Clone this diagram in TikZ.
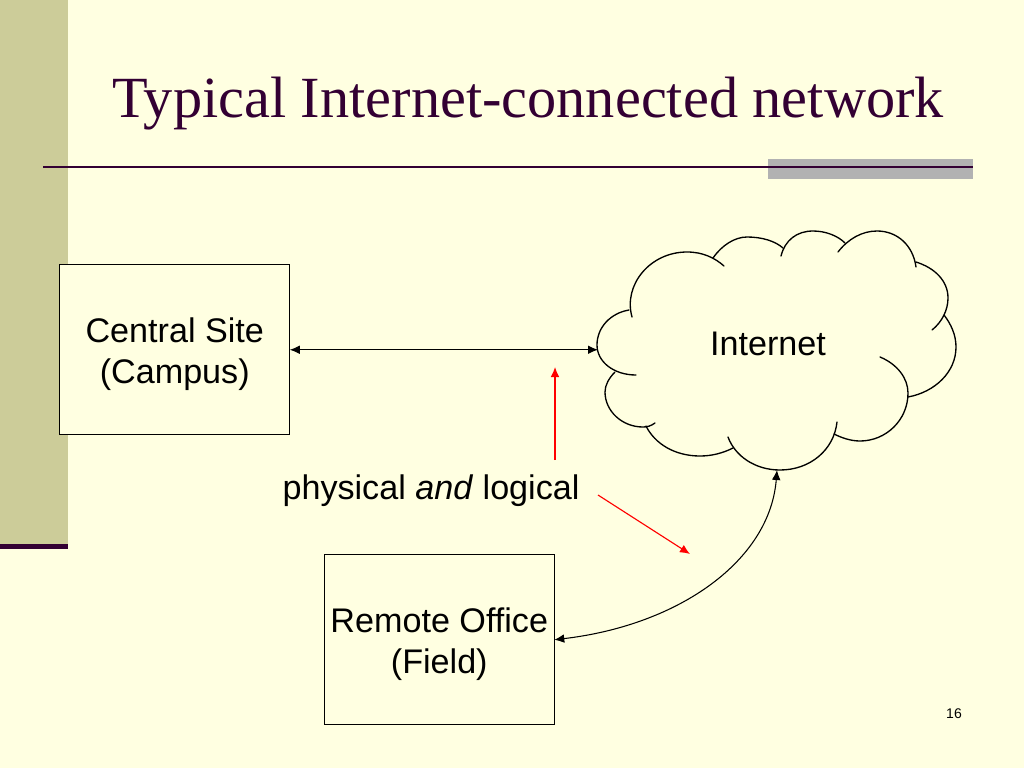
\documentclass[tikz,border=0pt]{standalone}
\usepackage{fontspec}
\setmainfont[RawFeature=-liga]{Liberation Sans}
\newfontfamily\titlefont{Liberation Serif}
\usepackage{xcolor}
\usetikzlibrary{arrows.meta,positioning}
\definecolor{slidebg}{HTML}{FFFFE1}
\definecolor{sidebar}{HTML}{CCCC99}
\definecolor{titleink}{HTML}{330033}
\definecolor{rulegrey}{HTML}{B2B2B2}

\begin{document}
\begin{tikzpicture}[
    x=0.75pt,y=-0.75pt,
    site/.style={
      draw,
      fill=slidebg,
      align=center,
      outer sep=0pt,
      minimum width=172.5pt,
      minimum height=127.5pt,
      line width=0.75pt,
      font=\fontsize{25.6}{30.75}\selectfont
    },
    label/.style={font=\fontsize{25.6}{30}\selectfont},
    flow/.style={{Latex[length=7.5pt,width=6.5pt]}-{Latex[length=7.5pt,width=6.5pt]},line width=0.8pt},
    hint/.style={-{Latex[length=7.5pt,width=6.5pt]},red,line width=0.85pt},
    lobe/.style={line width=1pt,line cap=round}
  ]
    \useasboundingbox (0,0) rectangle (1024,768);
    \fill[slidebg] (0,0) rectangle (1024,768);
    \fill[sidebar] (0,0) rectangle (68,546);
    \fill[titleink] (0,544) rectangle (68,549);
    \fill[rulegrey] (768,158.5) rectangle (973,179);
    \draw[titleink,line width=2pt] (43,167) -- (973,167);

    \node[titleink,font=\titlefont\fontsize{43.74}{50}\selectfont] (title) at (528,103.5) {Typical Internet-connected network};
    \node[site] (central) at (174.75,349.75) {\rule{0pt}{24.7pt}Central Site\\(Campus)};
    \node[site] (remote) at (439.25,639.75) {\rule{0pt}{24.7pt}Remote Office\\(Field)};
    \node[label] (internet) at (768,344) {Internet};
    \node[label] (physical) at (431,490.5) {physical \textit{and} logical};
    \node[font=\fontsize{10.5}{12}\selectfont] (page) at (954,713.5) {16};

    % cloud, one curve per lobe
    \draw[lobe] (632,317) .. controls (623,285) and (650,252) .. (687,252) .. controls (703,252) and (715,258) .. (724,266);
    \draw[lobe] (713,258) .. controls (722,245) and (735,237) .. (747,237) .. controls (762,237) and (775,241) .. (783,248);
    \draw[lobe] (781,256) .. controls (785,240) and (797,231) .. (813,231) .. controls (826,231) and (838,236) .. (845,243);
    \draw[lobe] (838,252) .. controls (848,239) and (862,231) .. (877,231) .. controls (897,231) and (913,245) .. (916,267);
    \draw[lobe] (916,262) .. controls (935,268) and (948,281) .. (948,298) .. controls (948,310) and (942,322) .. (932,330);
    \draw[lobe] (944,315) .. controls (951,324) and (956,335) .. (956,347) .. controls (956,372) and (935,392) .. (908,397);
    \draw[lobe] (880,357) .. controls (897,364) and (908,378) .. (908,393) .. controls (908,420) and (886,441) .. (860,441) .. controls (851,441) and (842,438) .. (834,434);
    \draw[lobe] (837,422) .. controls (834,450) and (810,470) .. (780,470) .. controls (755,470) and (735,456) .. (728,437);
    \draw[lobe] (733,448) .. controls (723,453) and (712,456) .. (700,456) .. controls (675,456) and (655,444) .. (646,426);
    \draw[lobe] (655,423) .. controls (651,426) and (647,427) .. (643,427) .. controls (622,427) and (605,411) .. (605,392) .. controls (605,385) and (609,378) .. (615,372);
    \draw[lobe] (636,375) .. controls (614,375) and (597,362) .. (597,345) .. controls (597,327) and (611,313) .. (629,310);

    \coordinate (cloudwest) at (598,349.75);
    \coordinate (cloudsouth) at (777,470);
    \coordinate (linkmark) at (555,367);
    \coordinate (curvemark) at (690,554);
    \coordinate (uphint) at (555,460);
    \coordinate (downhint) at (598,495);

    \draw[flow] (central.east) -- (cloudwest);
    \draw[flow] (remote.east) .. controls (680,625) and (770,560) .. (cloudsouth);
    \draw[hint] (uphint) -- (linkmark);
    \draw[hint] (downhint) -- (curvemark);
\end{tikzpicture}
\end{document}
